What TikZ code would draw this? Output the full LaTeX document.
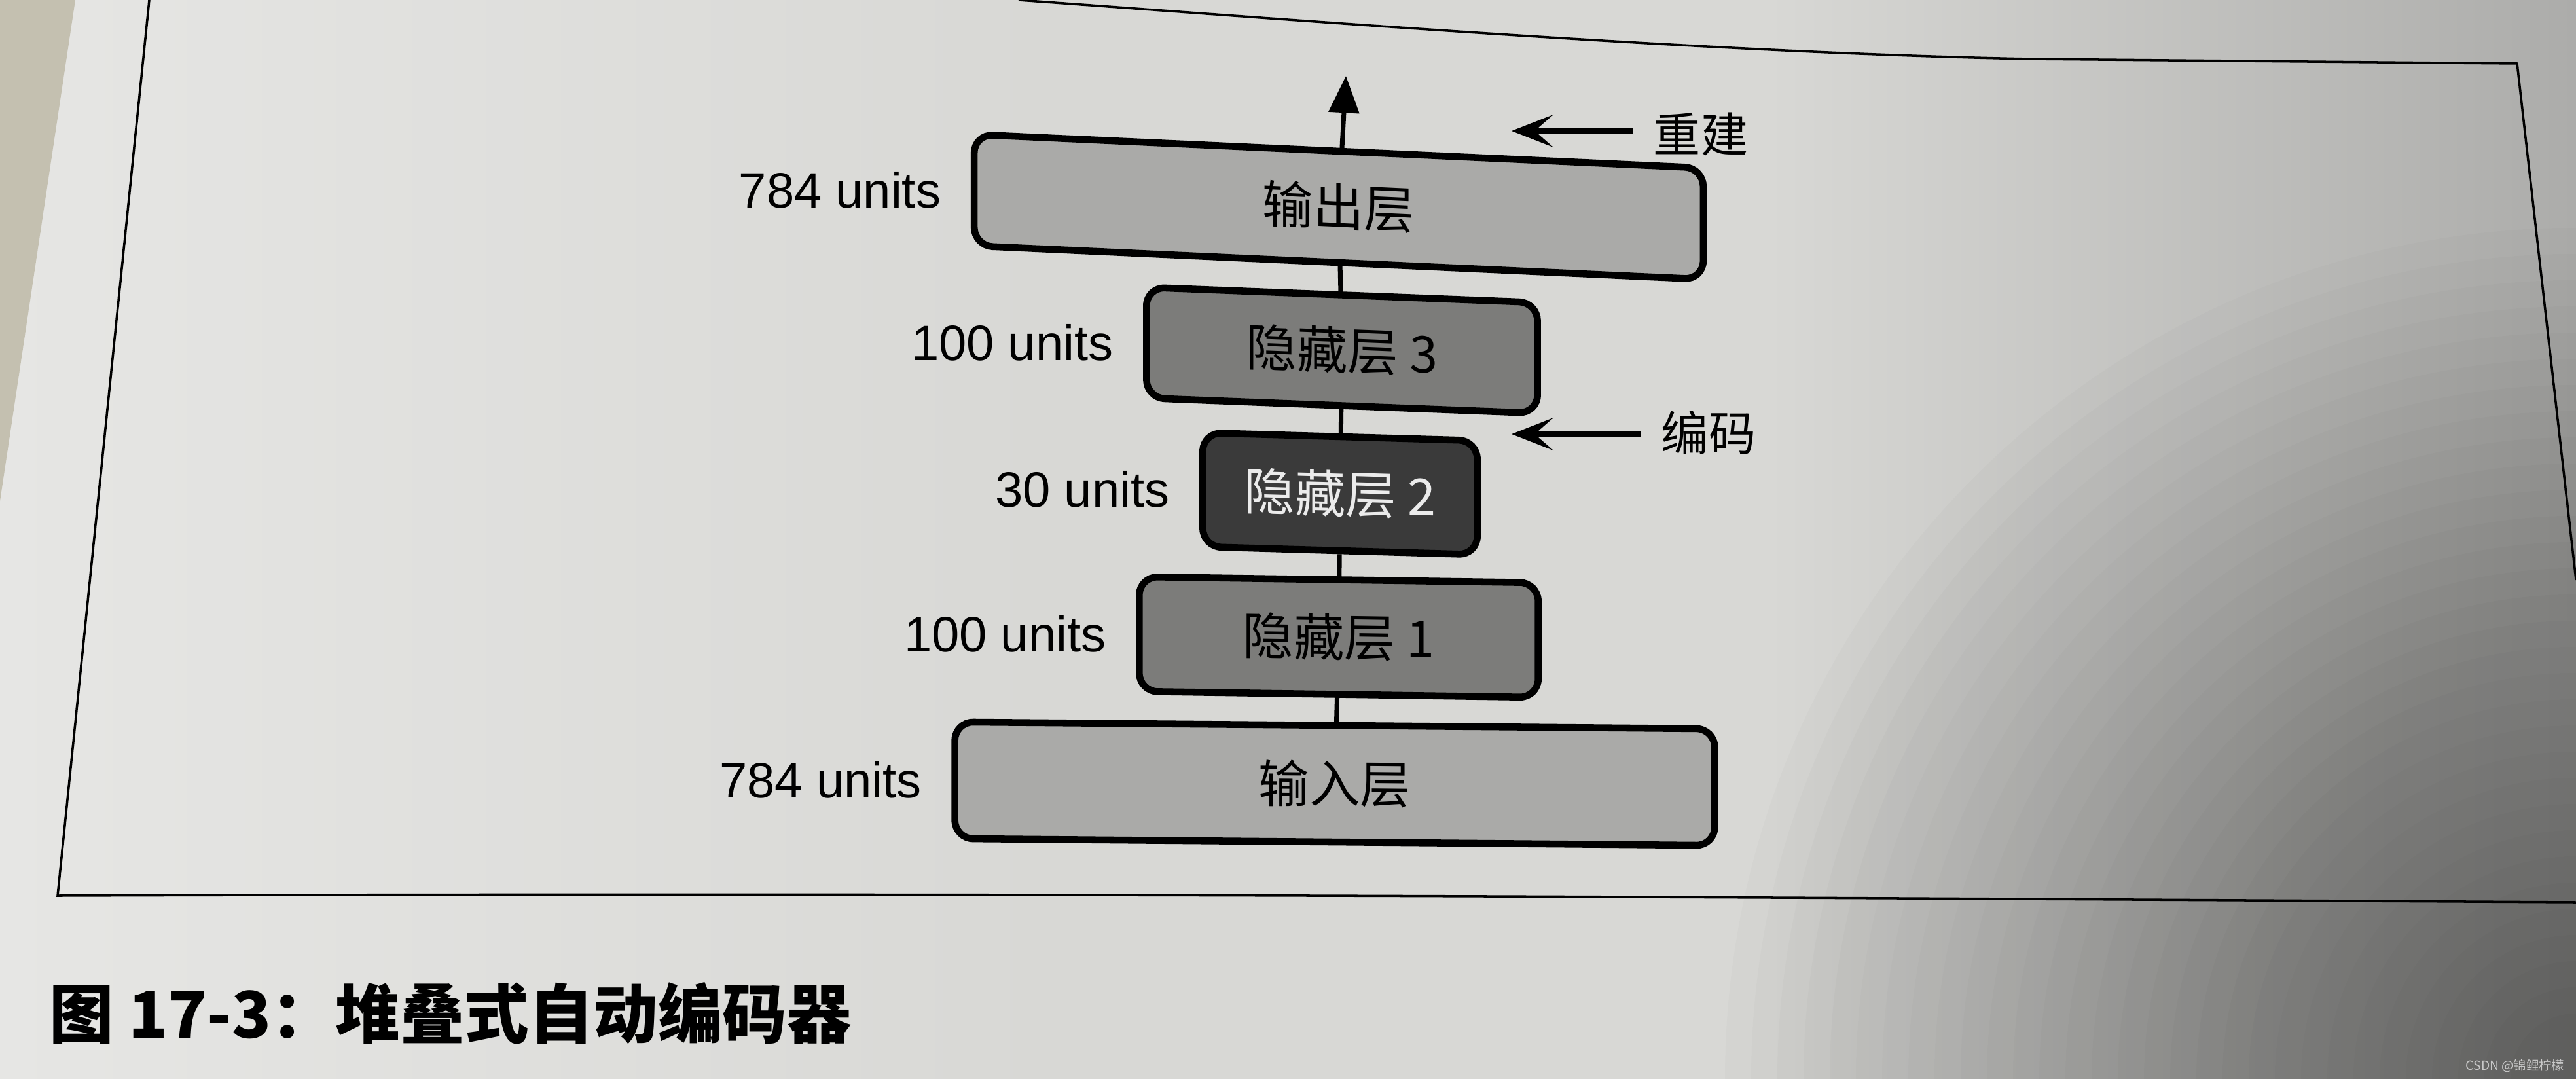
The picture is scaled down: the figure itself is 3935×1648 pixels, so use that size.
\documentclass[tikz,border=0pt]{standalone}
\usepackage{fontspec}
\setmainfont{Liberation Sans}
\newfontfamily\cjk{Noto Sans CJK SC}
\usepackage{tikz}
\usetikzlibrary{arrows.meta,positioning}
\definecolor{page}{RGB}{216,216,213}
\definecolor{pagelt}{RGB}{230,230,228}
\definecolor{pagedk}{RGB}{172,172,170}
\definecolor{desk}{RGB}{196,192,176}
\definecolor{outfill}{RGB}{170,170,168}
\definecolor{midfill}{RGB}{124,124,122}
\definecolor{codefill}{RGB}{58,58,58}
\definecolor{wm}{RGB}{200,200,200}

\begin{document}
\begin{tikzpicture}[x=0.01cm,y=-0.01cm,node distance=0.45cm,
 layer/.style={draw=black,line width=3pt,rounded corners=0.28cm,transform shape,inner sep=0pt,font=\cjk\fontsize{22}{26}\selectfont},
 units/.style={inner sep=0pt,font=\fontsize{21.6}{26}\selectfont},
 side/.style={inner sep=0pt,font=\cjk\fontsize{20.5}{24}\selectfont},
 link/.style={line width=2pt},
 sidearrow/.style={line width=3pt,-{Stealth[length=18pt,width=14pt,inset=8pt]},shorten <=0.3cm}]
\useasboundingbox (0,0) rectangle (3935,1648);
\clip (0,0) rectangle (3935,1648);
\fill[page] (0,0) rectangle (3935,1648);
\shade[left color=pagelt,right color=page] (0,0) rectangle (1600,1648);
\shade[left color=page,right color=pagedk] (2700,0) rectangle (3935,1648);
\foreach \r in {100,140,...,1300}
  \fill[black,opacity=0.014] (3935,1648) circle (\r);
\fill[desk] (0,0) -- (115,0) -- (0,765) -- cycle;
\draw[line width=1pt] (228,0) -- (88,1368) .. controls (1500,1363) and (2600,1370) .. (3935,1378);
\draw[line width=1pt] (1556,0) .. controls (2000,32) and (2600,80) .. (3100,90) -- (3845,97) -- (3935,886);

\node[layer,fill=outfill,minimum width=11.13cm,minimum height=1.7cm,yslant=-0.046] (out) at (2045,316) {输出层};
\node[layer,fill=midfill,minimum width=5.97cm,minimum height=1.69cm,yslant=-0.039] (hid3) at (2050,535) {隐藏层 3};
\node[layer,fill=codefill,text=white!92!black,minimum width=4.19cm,minimum height=1.74cm,yslant=-0.029] (hid2) at (2047,754) {隐藏层 2};
\node[layer,fill=midfill,minimum width=6.09cm,minimum height=1.75cm,yslant=-0.015] (hid1) at (2045,973) {隐藏层 1};
\node[layer,fill=outfill,minimum width=11.6cm,minimum height=1.78cm,yslant=-0.009] (inp) at (2039,1197) {输入层};

\node[units,left=of out] (lout) {784 units};
\node[units,left=of hid3] (lhid3) {100 units};
\node[units,left=of hid2] (lhid2) {30 units};
\node[units,left=of hid1] (lhid1) {100 units};
\node[units,left=of inp] (linp) {784 units};

\draw[link] (inp) -- (hid1);
\draw[link] (hid1) -- (hid2);
\draw[link] (hid2) -- (hid3);
\draw[link] (hid3) -- (out);
\coordinate (top) at (2056,116);
\draw[link,-{Triangle[length=16pt,width=13pt]}] (out) -- (top);

\node[side] (rec) at (2598,205) {重建};
\coordinate (recTip) at (2309,200);
\draw[sidearrow] (rec.west |- recTip) -- (recTip);
\node[side] (enc) at (2610,661) {编码};
\coordinate (encTip) at (2309,663);
\draw[sidearrow] (enc.west |- encTip) -- (encTip);

\node[anchor=west,inner sep=0pt,font=\cjk\bfseries\fontsize{28}{34}\selectfont] (cap) at (75,1548) {图 17-3：堆叠式自动编码器};
\node[anchor=east,inner sep=0pt,text=wm,font=\cjk\fontsize{5.5}{7}\selectfont] (mark) at (3918,1628) {CSDN @锦鲤柠檬};
\end{tikzpicture}
\end{document}
